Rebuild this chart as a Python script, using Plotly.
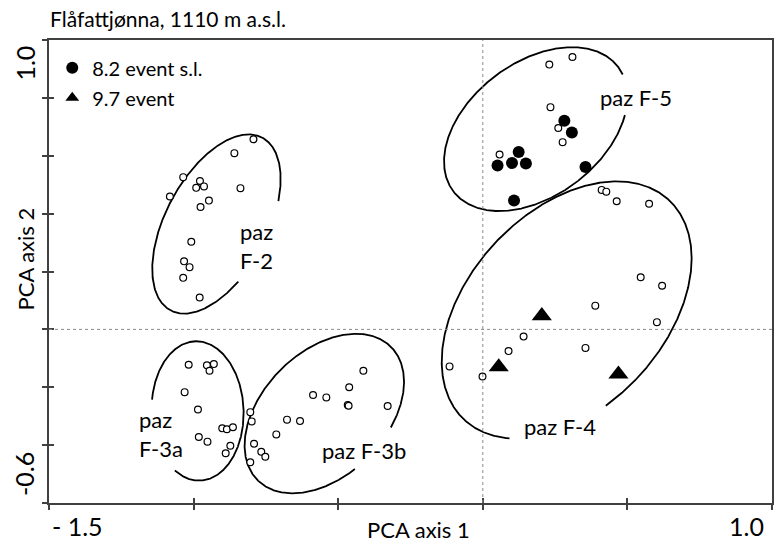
import numpy as np
import plotly.graph_objects as go

FONT = "Lato"
INK = "#000000"
AXIS = "#404040"

# ---- PCA sample scores (axis 1, axis 2), grouped by pollen assemblage zone ----
f2_x = [-0.793, -0.859, -1.036, -0.978, -0.991, -0.964, -0.838, -1.082, -0.947,
        -0.976, -1.008, -1.033, -1.014, -1.036, -0.979]
f2_y = [0.657, 0.609, 0.526, 0.513, 0.489, 0.494, 0.488, 0.459, 0.445,
        0.423, 0.303, 0.235, 0.215, 0.178, 0.110]

f3a_x = [-1.017, -0.954, -0.930, -0.945, -1.031, -0.985, -0.901, -0.885, -0.864,
         -0.982, -0.952, -0.873, -0.889]
f3a_y = [-0.122, -0.124, -0.120, -0.143, -0.217, -0.277, -0.342, -0.345, -0.338,
         -0.372, -0.388, -0.402, -0.428]

f3b_x = [-0.413, -0.462, -0.587, -0.541, -0.467, -0.464, -0.329, -0.804, -0.799,
         -0.677, -0.632, -0.714, -0.791, -0.766, -0.752, -0.804]
f3b_y = [-0.143, -0.200, -0.227, -0.235, -0.261, -0.264, -0.265, -0.286, -0.318,
         -0.312, -0.317, -0.363, -0.395, -0.423, -0.440, -0.459]

f4_x = [0.411, 0.427, 0.463, 0.575, 0.546, 0.620, 0.389, 0.602, 0.141, 0.089,
        0.355, -0.115, -0.001]
f4_y = [0.482, 0.476, 0.443, 0.434, 0.180, 0.151, 0.082, 0.025, -0.025, -0.075,
        -0.064, -0.128, -0.163]

f5_x = [0.310, 0.230, 0.234, 0.261, 0.276, 0.058]
f5_y = [0.941, 0.915, 0.768, 0.696, 0.647, 0.604]

# samples attributed to the two cold events
ev82_x = [0.282, 0.308, 0.124, 0.051, 0.101, 0.149, 0.355, 0.108]
ev82_y = [0.721, 0.680, 0.613, 0.566, 0.575, 0.573, 0.561, 0.445]

ev97_x = [0.204, 0.055, 0.469]
ev97_y = [0.047, -0.130, -0.155]

# axis ticks and the labels printed at the axis ends
x_ticks = [-1.5, -1.0, -0.5, 0.0, 0.5, 1.0]
y_ticks = [-0.6, -0.4, -0.2, 0.0, 0.2, 0.4, 0.6, 0.8, 1.0]
x_end_labels = ["- 1.5", "1.0"]
y_end_labels = ["1.0", "-0.6"]

# zone envelopes: centre, semi-axes, orientation (deg) and the label gap (polar deg)
zones = [
    dict(cx=-0.921, cy=0.364, a=0.338, b=0.176, ang=62, gap=(-69, 20)),
    dict(cx=-0.986, cy=-0.282, a=0.241, b=0.159, ang=92, gap=(166, 249)),
    dict(cx=-0.548, cy=-0.291, a=0.326, b=0.214, ang=45, gap=(-61, -12)),
    dict(cx=0.290, cy=0.067, a=0.519, b=0.339, ang=47, gap=(-114, -68)),
    dict(cx=0.183, cy=0.692, a=0.357, b=0.231, ang=37, gap=(9, 32)),
]

zone_labels = [
    dict(text="paz<br>F-2", x=-0.848, y=0.288, xanchor="left"),
    dict(text="paz<br>F-3a", x=-1.197, y=-0.360, xanchor="left"),
    dict(text="paz F-3b", x=-0.410, y=-0.417, xanchor="center"),
    dict(text="paz F-4", x=0.266, y=-0.337, xanchor="center"),
    dict(text="paz F-5", x=0.531, y=0.803, xanchor="center"),
]


def open_ellipse(cx, cy, a, b, ang, gap, n=1440):
    """Points along a rotated ellipse, leaving out the arc inside `gap`."""
    t = np.linspace(0, 2 * np.pi, n, endpoint=False)
    th = np.radians(ang)
    ex, ey = a * np.cos(t), b * np.sin(t)
    x = cx + ex * np.cos(th) - ey * np.sin(th)
    y = cy + ex * np.sin(th) + ey * np.cos(th)
    phi = np.degrees(np.arctan2(y - cy, x - cx))
    g0, g1 = gap
    inside = ((phi - g0) % 360) < ((g1 - g0) % 360)
    # start just after the gap so the kept arc is contiguous
    k = int(np.argmax(np.roll(inside, 1) & ~inside))
    x, y, inside = np.roll(x, -k), np.roll(y, -k), np.roll(inside, -k)
    return x[~inside], y[~inside]


fig = go.Figure()

for z in zones:
    ex, ey = open_ellipse(z["cx"], z["cy"], z["a"], z["b"], z["ang"], z["gap"])
    fig.add_trace(go.Scatter(x=ex, y=ey, mode="lines",
                             line=dict(color=INK, width=1.8),
                             showlegend=False, hoverinfo="skip"))

fig.add_trace(go.Scatter(x=ev82_x, y=ev82_y, mode="markers", name="8.2 event s.l.",
                         legendgroup="a",
                         marker=dict(symbol="circle", size=12, color=INK,
                                     line=dict(width=0))))
fig.add_trace(go.Scatter(x=ev97_x, y=ev97_y, mode="markers", name="9.7 event",
                         legendgroup="b",
                         marker=dict(symbol="triangle-up", size=17.5, color=INK,
                                     line=dict(width=0))))

for xs, ys in [(f2_x, f2_y), (f3a_x, f3a_y), (f3b_x, f3b_y), (f4_x, f4_y), (f5_x, f5_y)]:
    fig.add_trace(go.Scatter(x=xs, y=ys, mode="markers", showlegend=False,
                             marker=dict(symbol="circle", size=6.8, color="white",
                                         line=dict(color=INK, width=1.2))))

# companion axes carrying the inner half of each tick mark
fig.add_trace(go.Scatter(x=[], y=[], xaxis="x2", yaxis="y2",
                         showlegend=False, hoverinfo="skip"))

# reference lines through the origin
fig.add_shape(type="line", xref="x", yref="paper", x0=0, x1=0, y0=0, y1=1,
              line=dict(color="#8a8a8a", width=1, dash="dot"))
fig.add_shape(type="line", xref="paper", yref="y", x0=0, x1=1, y0=0, y1=0,
              line=dict(color="#8a8a8a", width=1, dash="dot"))

ann = []
for z in zone_labels:
    ann.append(dict(text=z["text"], x=z["x"], y=z["y"], xref="x", yref="y",
                    xanchor=z["xanchor"], yanchor="middle", align="left",
                    showarrow=False, font=dict(family=FONT, size=22, color=INK)))

tick_font = dict(family=FONT, size=25, color=INK)
ann.append(dict(text=x_end_labels[0], x=x_ticks[0], y=0, xref="x", yref="paper",
                xanchor="left", yanchor="top", xshift=1, yshift=-6,
                showarrow=False, font=tick_font))
ann.append(dict(text=x_end_labels[1], x=x_ticks[-1], y=0, xref="x", yref="paper",
                xanchor="right", yanchor="top", xshift=-6, yshift=-6,
                showarrow=False, font=tick_font))
ann.append(dict(text=y_end_labels[0], x=-0.0345, y=y_ticks[-1], xref="paper", yref="y",
                xanchor="center", yanchor="top", yshift=-4, textangle=-90,
                showarrow=False, font=tick_font))
ann.append(dict(text=y_end_labels[1], x=-0.0345, y=y_ticks[0], xref="paper", yref="y",
                xanchor="center", yanchor="bottom", yshift=5, textangle=-90,
                showarrow=False, font=tick_font))

ann.append(dict(text="PCA axis 1", x=0.511, y=-0.0562, xref="paper", yref="paper",
                xanchor="center", yanchor="middle", showarrow=False,
                font=dict(family=FONT, size=22, color=INK)))
ann.append(dict(text="PCA axis 2", x=-0.0331, y=0.526, xref="paper", yref="paper",
                xanchor="center", yanchor="middle", textangle=-90, showarrow=False,
                font=dict(family=FONT, size=22, color=INK)))
ann.append(dict(text="Flåfattjønna, 1110 m a.s.l.", x=-0.0014, y=1.0475,
                xref="paper", yref="paper", xanchor="left", yanchor="middle",
                showarrow=False, font=dict(family=FONT, size=21, color=INK)))

axis_common = dict(showgrid=False, zeroline=False, showticklabels=False,
                   ticklen=5, tickwidth=1.5, tickcolor=AXIS)

fig.update_layout(
    width=775, height=544, autosize=False,
    margin=dict(l=49, r=1, t=40, b=41, pad=0),
    paper_bgcolor="white", plot_bgcolor="white",
    font=dict(family=FONT, color=INK),
    xaxis=dict(range=[-1.5, 1.0], tickvals=x_ticks, ticks="outside",
               showline=True, linewidth=2, linecolor=AXIS, mirror=True, **axis_common),
    yaxis=dict(range=[-0.6, 1.0], tickvals=y_ticks, ticks="outside",
               showline=True, linewidth=2, linecolor=AXIS, mirror=True, **axis_common),
    xaxis2=dict(range=[-1.5, 1.0], tickvals=x_ticks, ticks="inside", overlaying="x",
                anchor="y2", side="bottom", showline=False, **axis_common),
    yaxis2=dict(range=[-0.6, 1.0], tickvals=y_ticks, ticks="inside", overlaying="y",
                anchor="x2", side="left", showline=False, **axis_common),
    legend=dict(x=0.0045, y=0.982, xanchor="left", yanchor="top",
                bgcolor="rgba(0,0,0,0)", borderwidth=0, itemsizing="constant",
                tracegroupgap=1, font=dict(family=FONT, size=20, color=INK)),
    annotations=ann,
)

fig.write_html("out.html")
